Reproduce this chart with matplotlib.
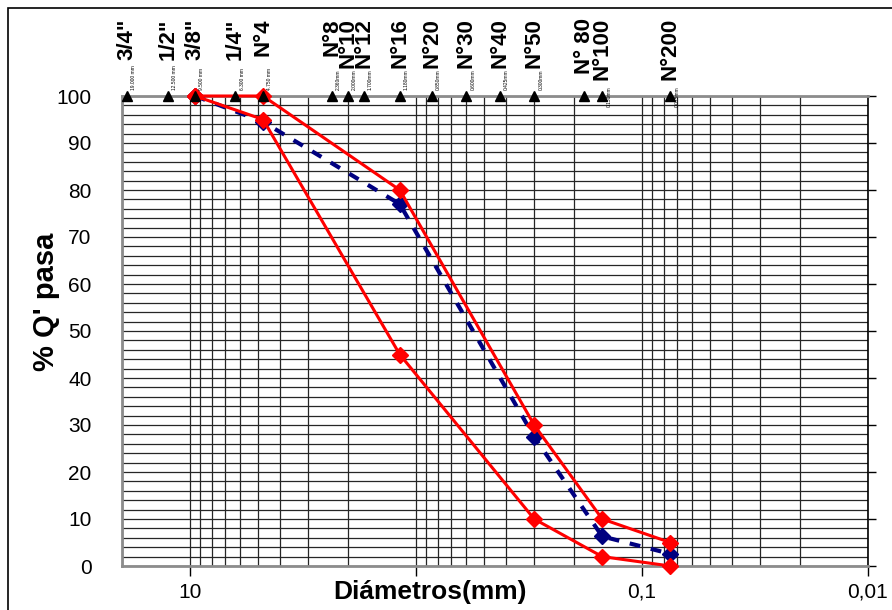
import matplotlib
matplotlib.use('Agg')
import matplotlib.pyplot as plt
from matplotlib.ticker import FixedLocator, LogLocator, MultipleLocator, NullFormatter
from matplotlib.patches import Rectangle
import numpy as np

plt.rcParams['font.family'] = ['Liberation Sans', 'DejaVu Sans']

# sieve series (top markers)
sieve_names = ['3/4"', '1/2"', '3/8"', '1/4"', 'N°4', 'N°8', 'N°10', 'N°12', 'N°16',
               'N°20', 'N°30', 'N°40', 'N°50', 'N° 80', 'N°100', 'N°200']
sieve_mm = [19.0, 12.5, 9.5, 6.3, 4.75, 2.36, 2.0, 1.7, 1.18,
            0.85, 0.6, 0.425, 0.3, 0.18, 0.15, 0.075]
sieve_mm_text = ['19.000 mm', '12.500 mm', '9.500 mm', '6.300 mm', '4.750 mm', '2.360mm',
                 '2.000mm', '1.700mm', '1.180mm', '0.850mm', '0.600mm', '0.425mm',
                 '0.300mm', '', '0.150mm', '0.075mm']

# gradation curves
diam = [9.5, 4.75, 1.18, 0.3, 0.15, 0.075]
upper_limit = [100, 100, 80, 30, 10, 5]
lower_limit = [100, 95, 45, 10, 2, 0]
sample = [100, 94.5, 77, 27.5, 6.3, 2.6]

fig = plt.figure(figsize=(8.92, 6.10), dpi=100)
ax = fig.add_axes([122/892, 1-566/610, (868-122)/892, (566-96)/610])

ax.set_xscale('log')
ax.set_xlim(20, 0.01)
ax.set_ylim(0, 100)

# grid
ax.xaxis.set_major_locator(FixedLocator([10, 1, 0.1, 0.01]))
ax.set_xticklabels(['10', '', '0,1', '0,01'])
ax.xaxis.set_minor_locator(LogLocator(base=10, subs=np.arange(2, 10), numticks=20))
ax.xaxis.set_minor_formatter(NullFormatter())
ax.yaxis.set_major_locator(MultipleLocator(10))
ax.yaxis.set_minor_locator(MultipleLocator(2))
ax.grid(True, which='both', axis='both', color='0.15', lw=0.9)
ax.set_axisbelow(True)

ax.tick_params(axis='x', which='major', direction='out', length=7, width=1, color='black',
               labelsize=15, pad=5)
ax.tick_params(axis='x', which='minor', length=0)
ax.tick_params(axis='y', which='major', left=False, right=True, direction='out', length=6,
               width=1, labelsize=15, pad=16)
ax.tick_params(axis='y', which='minor', left=False, right=False)

for s in ['left', 'bottom', 'top']:
    ax.spines[s].set_color('0.55')
    ax.spines[s].set_linewidth(2)
ax.spines['right'].set_color('black')
ax.spines['right'].set_linewidth(1.2)

# curves
ax.plot(diam, sample, color='#000080', lw=3, ls=(0, (2.6, 2.6)), marker='D', ms=8.5,
        zorder=4, clip_on=False)
ax.plot(diam, upper_limit, color='#ff0000', lw=2.2, marker='D', ms=8.5, zorder=5, clip_on=False)
ax.plot(diam, lower_limit, color='#ff0000', lw=2.2, marker='D', ms=8.5, zorder=5, clip_on=False)

# sieve markers and labels
ax.plot(sieve_mm, [100]*len(sieve_mm), ls='none', marker='^', color='black', ms=7,
        zorder=6, clip_on=False)
for name, mm, txt in zip(sieve_names, sieve_mm, sieve_mm_text):
    ax.annotate(name, xy=(mm, 100), xycoords='data', xytext=(0, 56), textcoords='offset points',
                rotation=90, ha='center', va='top', fontsize=16, fontweight='bold',
                annotation_clip=False)
    if txt:
        # long names reach further down, so their small label sits lower
        dy = -8 if len(name) >= 5 else 4
        ax.annotate(txt, xy=(mm, 100), xycoords='data', xytext=(3, dy), textcoords='offset points',
                    rotation=90, ha='left', va='bottom', fontsize=3.5, annotation_clip=False,
                    zorder=7)

fig.text(430/892, 1-592/610, 'Diámetros(mm)', ha='center', va='center', fontsize=19,
         fontweight='bold')
fig.text(46/892, 1-302/610, "% Q' pasa", ha='center', va='center', rotation=90, fontsize=21,
         fontweight='bold')

fig.patches.append(Rectangle((8/892, -0.1), 1.2, 1.1 - 8/610, fill=False, lw=1.2,
                             edgecolor='black', transform=fig.transFigure))

fig.savefig('out.png', dpi=100)
